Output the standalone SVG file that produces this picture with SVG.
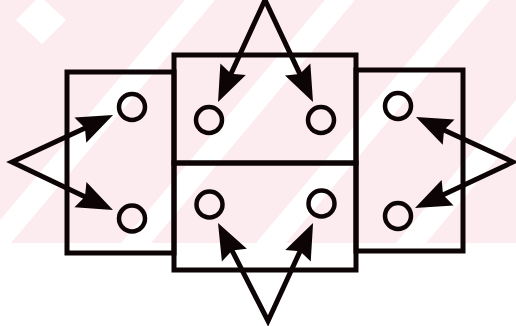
<svg xmlns="http://www.w3.org/2000/svg" width="516" height="326" viewBox="0 0 516 326">
  <style>
    .box { fill: none; stroke: #0d0406; stroke-width: 5; stroke-linejoin: miter; }
    .port { fill: none; stroke: #0d0406; stroke-width: 4.5; }
    .conn { fill: none; stroke: #0d0406; stroke-width: 5; stroke-linejoin: miter; stroke-miterlimit: 10; marker-start: url(#head-start); marker-end: url(#head); }
    .stripe { fill: #ffffff; }
  </style>
  <defs>
    <marker id="head" markerUnits="userSpaceOnUse" markerWidth="42" markerHeight="32" viewBox="0 -16 42 32" refX="16" refY="0" orient="auto" overflow="visible">
      <path d="M0,-14 L36,0 L0,14 L5,0 Z" fill="#0d0406"/>
    </marker>
    <marker id="head-start" markerUnits="userSpaceOnUse" markerWidth="42" markerHeight="32" viewBox="0 -16 42 32" refX="16" refY="0" orient="auto-start-reverse" overflow="visible">
      <path d="M0,-14 L36,0 L0,14 L5,0 Z" fill="#0d0406"/>
    </marker>
    <clipPath id="bgclip"><rect x="0" y="0" width="516" height="243"/></clipPath>
  </defs>

  <rect x="0" y="0" width="516" height="326" fill="#ffffff"/>
  <g id="background" clip-path="url(#bgclip)">
    <rect x="0" y="0" width="516" height="243" fill="#fdecef"/>
    <polygon class="stripe" points="185,0 215,0 11,243 -19,243"/>
    <polygon class="stripe" points="325,0 355,0 151,243 121,243"/>
    <polygon class="stripe" points="460,0 490,0 286,243 256,243"/>
    <polygon class="stripe" points="600,0 630,0 426,243 396,243"/>
    <polygon class="stripe" points="40,-4 66,20 42,44 16,20"/>
  </g>

  <g id="left-block">
    <rect class="box" x="67" y="72" width="107" height="181"/>
    <circle class="port" cx="132" cy="107" r="13"/>
    <circle class="port" cx="132" cy="218.5" r="13"/>
  </g>
  <g id="middle-top-block">
    <rect class="box" x="174" y="55" width="182" height="108"/>
    <circle class="port" cx="209" cy="120" r="13"/>
    <circle class="port" cx="321" cy="120" r="13"/>
  </g>
  <g id="middle-bottom-block">
    <rect class="box" x="174" y="163" width="182" height="107"/>
    <circle class="port" cx="209.5" cy="204.5" r="13"/>
    <circle class="port" cx="321.5" cy="203.5" r="13"/>
  </g>
  <g id="right-block">
    <rect class="box" x="356" y="70" width="107" height="181"/>
    <circle class="port" cx="398" cy="106" r="13"/>
    <circle class="port" cx="398" cy="216" r="13"/>
  </g>

  <g id="connectors">
    <path class="conn" d="M226.4,83.8 L265,0 L304.5,83.9"/>
    <path class="conn" d="M94.9,123.4 L12,162 L94.9,201.4"/>
    <path class="conn" d="M434.1,125.4 L513,162 L433.1,199.5"/>
    <path class="conn" d="M227.1,240.8 L268,321 L304.7,241.2"/>
  </g>
</svg>
